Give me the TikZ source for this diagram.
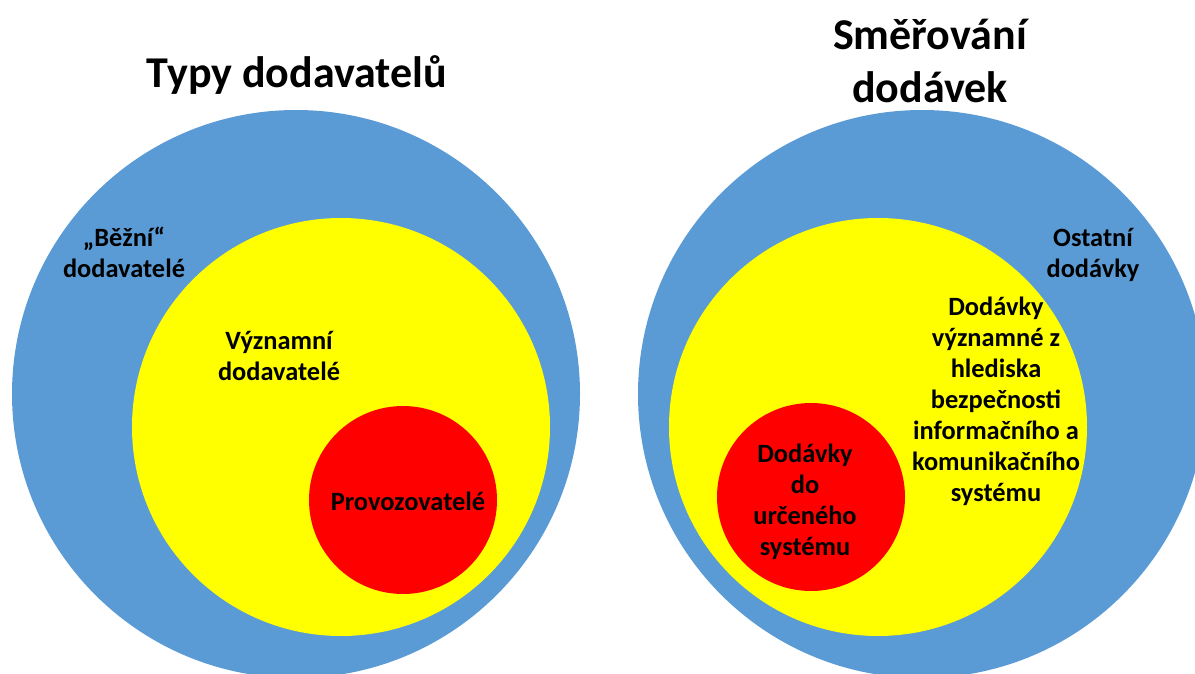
\documentclass[tikz,border=0pt]{standalone}
\usepackage{fontspec}
\setmainfont{Carlito}
\usetikzlibrary{positioning}
\definecolor{ringblue}{RGB}{91,155,213}
\definecolor{ringyellow}{RGB}{255,255,0}
\definecolor{ringred}{RGB}{255,0,0}

\begin{document}
\begin{tikzpicture}[x=0.5pt,y=-0.5pt]
    \tikzset{outer/.style={circle,minimum size=284pt,inner sep=0pt,fill=ringblue}}
    \tikzset{middle/.style={circle,minimum size=209pt,inner sep=0pt,fill=ringyellow}}
    \tikzset{inner/.style={circle,minimum size=94pt,inner sep=0pt,fill=ringred}}
    \tikzset{label/.style={align=center,inner sep=0pt,font=\fontsize{13.2pt}{15.5pt}\selectfont\bfseries}}
    \tikzset{title/.style={align=center,inner sep=0pt,font=\fontsize{22pt}{26.5pt}\selectfont\bfseries}}
    \useasboundingbox (0,0) rectangle (1195,674);
    \clip (0,0) rectangle (1195,674);
    % left: Typy dodavatelu
    \draw (296,394) node[outer](b1){};
    \draw (341,427) node[middle](y1){};
    \draw (403,500) node[inner](r1){};
    \draw (297,75) node[title](t1){Typy dodavatelů};
    \draw (124,252) node[label](l1){„Běžní“\\dodavatelé};
    \draw (279,356) node[label](l2){Významní\\dodavatelé};
    \draw (408,501) node[label](l3){Provozovatelé};
    % right: Smerovani dodavek
    \draw (922,394) node[outer](b2){};
    \draw (878,427) node[middle](y2){};
    \draw (811,497) node[inner](r2){};
    \draw (930,61) node[title](t2){Směřování\\dodávek};
    \draw (1093,255) node[label](l4){Ostatní\\dodávky};
    \draw (996,401) node[label](l5){Dodávky\\významné z\\hlediska\\bezpečnosti\\informačního a\\komunikačního\\systému};
    \draw (805,502) node[label](l6){Dodávky\\do\\určeného\\systému};
\end{tikzpicture}
\end{document}
